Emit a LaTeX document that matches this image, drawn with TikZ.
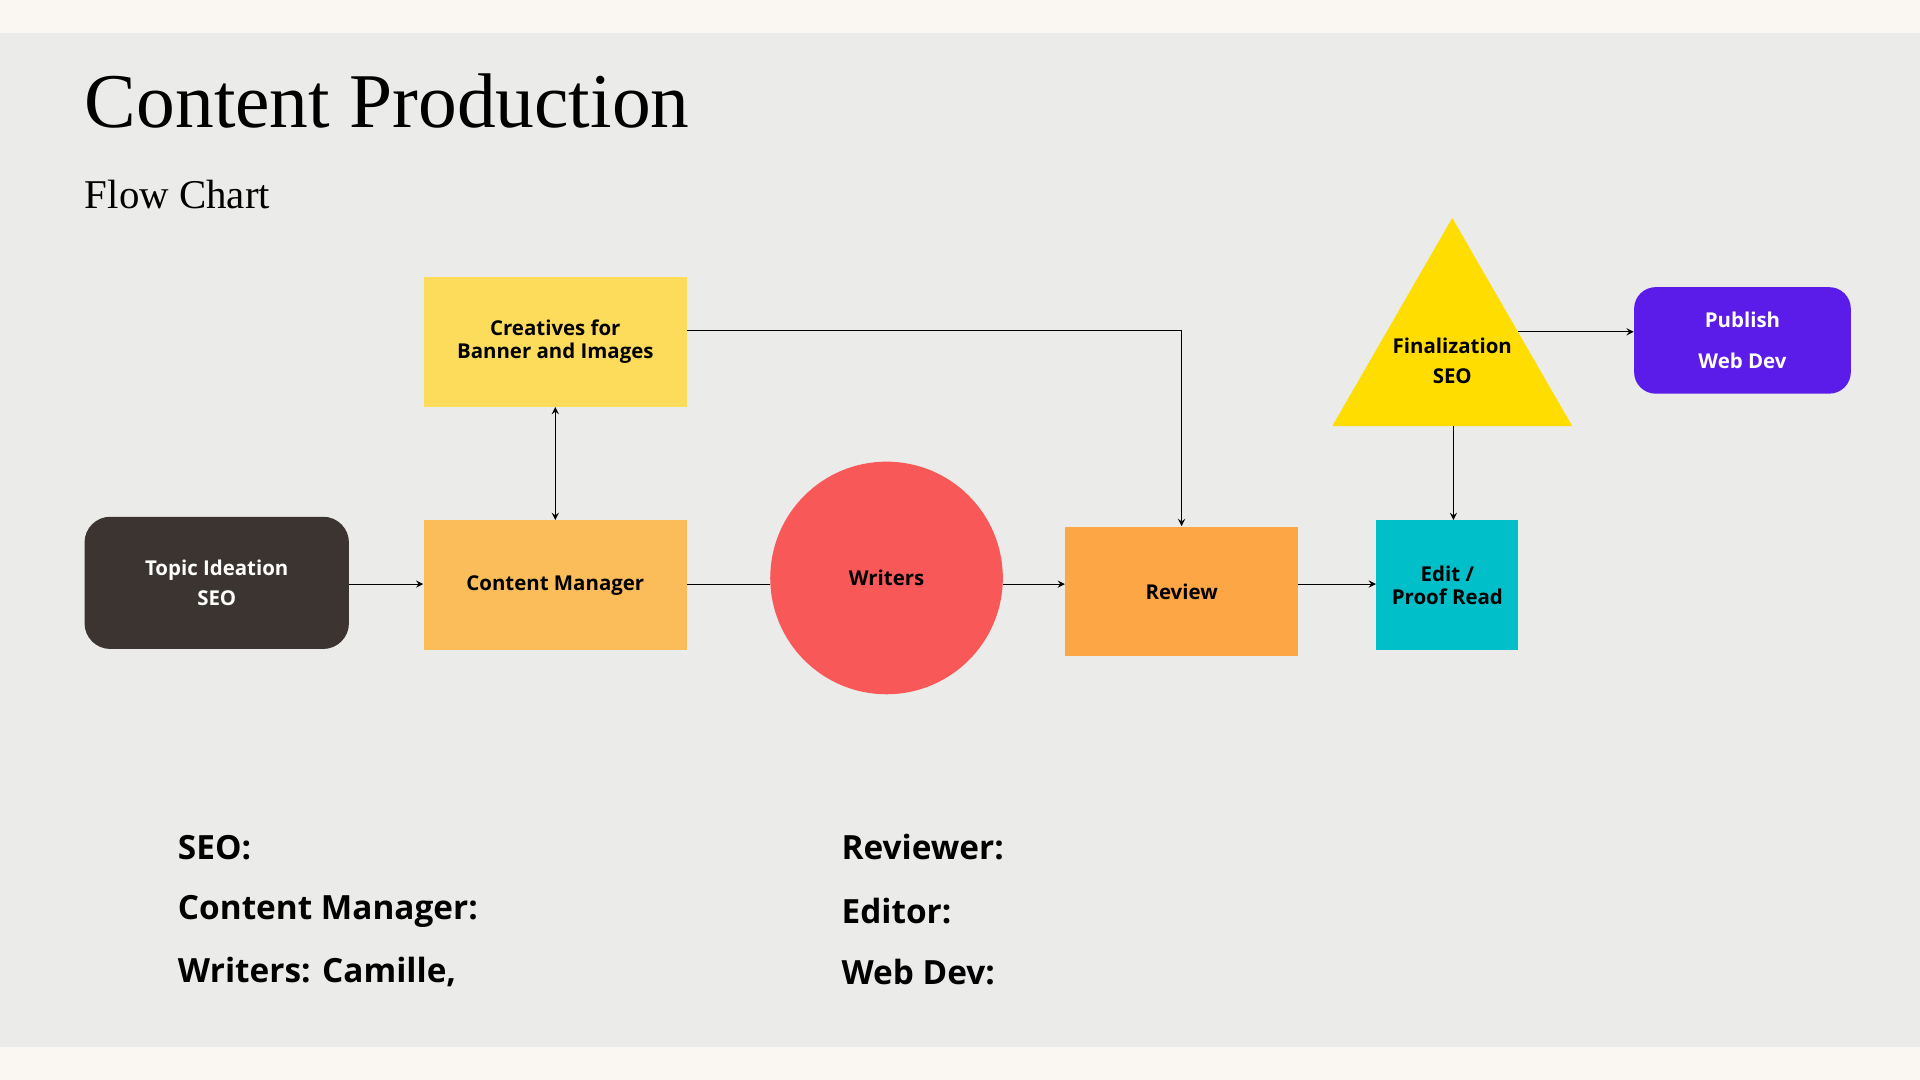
\documentclass[tikz,border=0pt]{standalone}
\usepackage{fontspec}
\setmainfont{Open Sans}
\newfontfamily\titlefont{Liberation Serif}
\usetikzlibrary{positioning,calc,arrows,shapes.geometric}
\definecolor{paper}{HTML}{EBEBEA}
\definecolor{strip}{HTML}{FAF7F2}
\definecolor{darkbox}{HTML}{3B3430}
\definecolor{cmbox}{HTML}{FBBD5A}
\definecolor{crbox}{HTML}{FDDC5C}
\definecolor{wrcirc}{HTML}{F95858}
\definecolor{rvbox}{HTML}{FDA646}
\definecolor{edbox}{HTML}{00BFC8}
\definecolor{fntri}{HTML}{FFDD00}
\definecolor{pubbox}{HTML}{5B1BE8}
\tikzset{
	box/.style={rectangle, align=center, font=\bfseries\fontsize{9.5}{11}\selectfont, inner sep=0pt},
	flow/.style={->, >=stealth, line width=0.5pt},
	legend/.style={anchor=west, inner sep=0pt, font=\bfseries\fontsize{15.5}{18}\selectfont}
}
\begin{document}
\begin{tikzpicture}[x=0.02cm,y=-0.02cm]
		\useasboundingbox (0,0) rectangle (1568,882);
		\fill[strip] (0,0) rectangle (1568,882);
		\fill[paper] (0,27) rectangle (1568,855);
		\node[anchor=base west, inner sep=0pt, font=\titlefont\fontsize{36}{40}\selectfont] (title) at (69,104) {Content Production};
		\node[anchor=base west, inner sep=0pt, font=\titlefont\fontsize{19}{22}\selectfont] (sub) at (69,170) {Flow Chart};
		\node[box, fill=darkbox, text=white, rounded corners=12pt, minimum width=4.32cm, minimum height=2.16cm] (topic) at (177,476) {Topic Ideation\\[3pt]SEO};
		\node[box, fill=cmbox, minimum width=4.3cm, minimum height=2.12cm] (cm) at (453.5,478) {Content Manager};
		\node[box, fill=crbox, minimum width=4.3cm, minimum height=2.12cm] (cr) at (453.5,279) {Creatives for\\Banner and Images};
		\node[box, circle, fill=wrcirc, minimum size=3.8cm] (wr) at (724,472) {Writers};
		\node[box, fill=rvbox, minimum width=3.8cm, minimum height=2.12cm] (rv) at (965,483) {Review};
		\node[box, fill=edbox, minimum width=2.32cm, minimum height=2.12cm] (ed) at (1182,478) {Edit /\\Proof Read};
		\fill[fntri] (1186,178) -- (1284,348) -- (1088,348) -- cycle;
		\node[box] (fin) at (1186,295) {Finalization\\[3pt]SEO};
		\coordinate (trib) at (1187,348);
		\coordinate (trir) at (1240,271);
		\coordinate (mid) at (0,477);
		\node[box, fill=pubbox, text=white, rounded corners=10pt, minimum width=3.54cm, minimum height=1.74cm] (pub) at (1423,278) {Publish\\[8pt]Web Dev};
		\draw[flow] (topic.east |- mid) -- (cm.west |- mid);
		\draw[line width=0.5pt] (cm.east |- mid) -- (wr.west |- mid);
		\draw[flow] (wr.east |- mid) -- (rv.west |- mid);
		\draw[flow] (rv.east |- mid) -- (ed.west |- mid);
		\draw[flow, <->] (cm.north) -- (cr.south);
		\draw[flow] (cr.east |- 0,270) -| (rv.north);
		\draw[flow] (trib) -- (trib |- ed.north);
		\draw[flow] (trir) -- (pub.west |- trir);
		\node[legend] (l1) at (145,692) {SEO:};
		\node[legend] (l2) at (145,744) {Content Manager:};
		\node[legend] (l3) at (145,794) {Writers: Camille,};
		\node[legend] (l4) at (687,692) {Reviewer:};
		\node[legend] (l5) at (687,744) {Editor:};
		\node[legend] (l6) at (687,794) {Web Dev:};
\end{tikzpicture}
\end{document}
